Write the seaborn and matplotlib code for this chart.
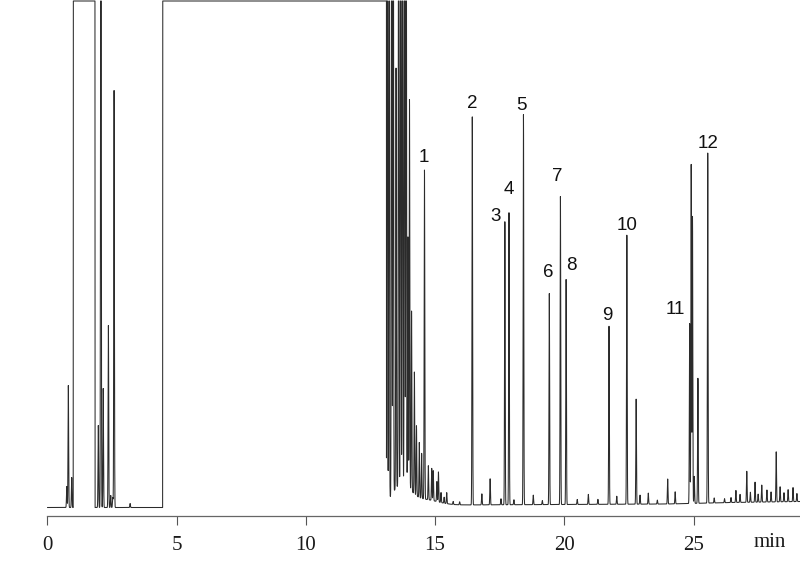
import numpy as np
import pandas as pd
import matplotlib
matplotlib.use("Agg")
import matplotlib.pyplot as plt
import matplotlib.transforms as mtransforms
import seaborn as sns

# ---------------- data ----------------
# retention times (min) and heights (detector units) of the resolved peaks
peak_rt = [0.75, 0.81, 0.94,
           1.97, 2.07, 2.16, 2.36, 2.45, 2.53, 2.58, 3.20,
           13.15, 13.22, 13.32, 13.38, 13.49, 13.59, 13.67, 13.74, 13.82, 13.88,
           13.95, 14.01, 14.09, 14.20, 14.28, 14.39, 14.48, 14.59, 14.74, 14.87,
           14.93, 15.07, 15.13, 15.23, 15.35, 15.45, 15.70, 15.95,
           16.44, 16.81, 17.13, 17.55, 17.70, 17.86, 18.05, 18.42, 18.80, 19.15,
           19.42, 19.85, 20.07, 20.50, 20.93, 21.30, 21.73, 22.03, 22.42, 22.78,
           22.93, 23.25, 23.60, 24.00, 24.29, 24.85, 24.91, 24.96, 25.03, 25.17,
           25.55, 25.80, 26.20, 26.45, 26.64, 26.80, 27.06, 27.20, 27.38, 27.50,
           27.64, 27.84, 28.00, 28.20, 28.35, 28.50, 28.66, 28.85, 29.00]
peak_height = [21, 122, 30,
               82, 1000, 119, 182, 12, 10, 417, 4,
               1000, 1000, 1000, 1000, 420, 1000, 1000, 1000, 1000, 1000,
               250, 389, 180, 122, 70, 55, 45, 329, 34, 32,
               30, 20, 30, 10, 6, 11, 3, 3,
               388, 11, 26, 6, 283, 292, 5, 390, 9.5, 4,
               211, 308, 225, 5, 10, 5, 178, 8, 269, 105,
               9, 11, 4, 25, 12, 180, 339, 287, 27, 125,
               350, 5, 4, 5, 12, 8, 31, 10, 20, 8,
               17, 12, 10, 50, 15, 9, 12, 14, 8]

# broad unresolved humps under the early cluster: centre, height, width (min)
hump_rt = [13.70, 14.60]
hump_height = [22, 6]
hump_width = [0.35, 0.50]

# detector baseline drift
base_time = [0.0, 4.5, 13.0, 15.5, 20.0, 24.0, 26.5, 29.12]
base_level = [0.0, 0.0, 0.0, 2.5, 3.0, 3.5, 5.0, 6.0]

# intervals where the detector is saturated (solvent fronts)
sat_start = [1.00, 4.46]
sat_end = [1.84, 13.12]
sat_level = 506.5

# labelled compounds: label, time, label height
label_text = ["1", "2", "3", "4", "5", "6", "7", "8", "9", "10", "11", "12"]
label_time = [14.58, 16.42, 17.32, 17.84, 18.33, 19.36, 19.71, 20.26, 21.67, 22.42, 24.29, 25.58]
label_level = [350.5, 403.5, 290.8, 318.2, 402.5, 234.8, 330.8, 242.5, 191.8, 282.5, 197.5, 363.5]

x_ticks = [0, 5, 10, 15, 20, 25]
x_max = 29.12

# ---------------- build the trace from the peak table ----------------
t = np.arange(0.0, x_max, 0.002)
sig = np.interp(t, base_time, base_level)
for rt, h in zip(peak_rt, peak_height):
    sig += h * np.exp(-0.5 * ((t - rt) / 0.012) ** 2)
for rt, h, w in zip(hump_rt, hump_height, hump_width):
    sig += h * np.exp(-0.5 * ((t - rt) / w) ** 2)
for s, e in zip(sat_start, sat_end):
    sig[(t >= s) & (t <= e)] = sat_level
sig = np.minimum(sig, sat_level)
df = pd.DataFrame({"time": t, "signal": sig})

# ---------------- draw ----------------
sns.set_style("white")
plt.rcParams["font.family"] = ["Liberation Sans", "DejaVu Sans"]

fig = plt.figure(figsize=(8.0, 5.7), dpi=100)
ax = fig.add_axes([47.4 / 800, 54 / 570, 752.6 / 800, 516 / 570])
sns.lineplot(data=df, x="time", y="signal", ax=ax, estimator=None, sort=False,
             color="#2b2b2b", linewidth=0.75)

ax.set_xlim(0, x_max)
ax.set_ylim(-8.5, 507.5)
ax.set_xlabel("")
ax.set_ylabel("")
ax.set_yticks([])
ax.set_xticks(x_ticks)
ax.set_xticklabels([str(v) for v in x_ticks], family=["Liberation Serif"], fontsize=15,
                   color="#1a1a1a")
ax.tick_params(axis="x", direction="out", length=6.5, width=0.8, color="#555555", pad=8,
               bottom=True)
for side in ["top", "left", "right"]:
    ax.spines[side].set_visible(False)
ax.spines["bottom"].set_color("#666666")
ax.spines["bottom"].set_linewidth(0.9)

for txt, xt, yl in zip(label_text, label_time, label_level):
    ax.text(xt, yl, txt, ha="center", va="center", fontsize=13.5, color="#111111",
            family=["Liberation Sans", "DejaVu Sans"])

trans = mtransforms.blended_transform_factory(ax.transData, ax.transAxes)
ax.text(27.96, -0.052, "min", transform=trans, ha="center", va="center",
        family=["Liberation Serif"], fontsize=15, color="#1a1a1a")

fig.savefig("out.png", dpi=100)
